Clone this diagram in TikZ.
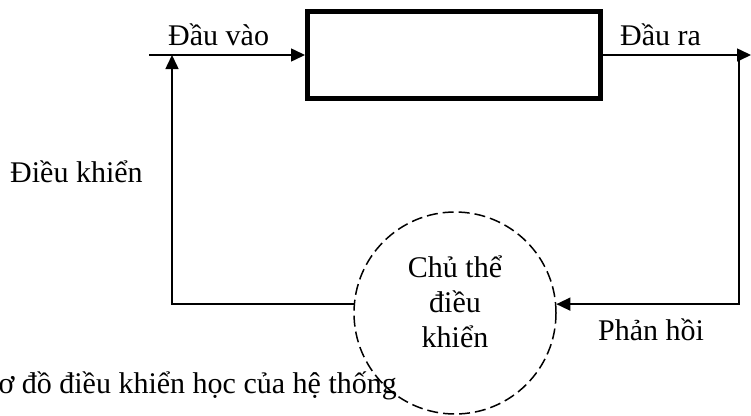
\documentclass[tikz,border=0pt]{standalone}
\usepackage{fontspec}
\setmainfont{Liberation Serif}
\usetikzlibrary{arrows.meta}
\begin{document}
\begin{tikzpicture}[x=1pt,y=-1pt,
  lbl/.style={inner sep=0pt,font=\fontsize{30}{35}\selectfont},
  wire/.style={line width=1.5pt},
  flow/.style={wire,-{Triangle[length=14pt,width=13pt]}},
  sysbox/.style={draw,line width=5pt,minimum width=293pt,minimum height=87pt,inner sep=0pt},
  ctrlring/.style={draw,circle,line width=1.5pt,dash pattern=on 11pt off 5pt,minimum size=202pt,inner sep=0pt}]
  \useasboundingbox (0,0) rectangle (751,415);

  % system block and the controlling subject
  \node[sysbox] (sys) at (454,55) {};
  \node[ctrlring] (ctrl) at (455,313) {};

  % free ends of the signal lines
  \coordinate (in) at (149,55);
  \coordinate (out) at (751,55);
  \coordinate (tap) at (739,55);
  \coordinate (join) at (172,55);

  % input, output, feedback and control paths
  \draw[flow] (in) -- (sys.west);
  \draw[flow] (sys.east) -- (out);
  \draw[flow] (tap) |- (ctrl.5);
  \draw[flow] (ctrl.175) -| (join);

  % labels
  \node[lbl,anchor=base west] (lin) at (168,45) {Đầu vào};
  \node[lbl,anchor=base west] (lout) at (620,45) {Đầu ra};
  \node[lbl,anchor=base west] (lctl) at (10,182) {Điều khiển};
  \node[lbl,anchor=base west] (lfb) at (598,340) {Phản hồi};
  \node[lbl,anchor=base] (c1) at (455,277) {Chủ thể};
  \node[lbl,anchor=base] (c2) at (455,312) {điều};
  \node[lbl,anchor=base] (c3) at (455,347) {khiển};
  \node[lbl,anchor=base east] (cap) at (397,393) {ơ đồ điều khiển học của hệ thống};
\end{tikzpicture}
\end{document}
